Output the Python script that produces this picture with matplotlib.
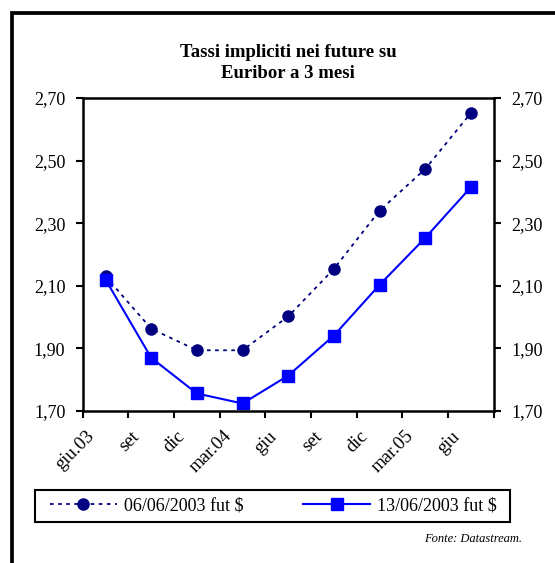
import matplotlib
matplotlib.use("Agg")
import matplotlib.pyplot as plt
import matplotlib.transforms as mtransforms
from matplotlib.patches import Rectangle

plt.rcParams['font.family'] = ['Liberation Serif', 'DejaVu Serif']

# data
dates = ['giu.03', 'set', 'dic', 'mar.04', 'giu', 'set', 'dic', 'mar.05', 'giu']
fut_0606 = [2.130, 1.963, 1.894, 1.894, 2.002, 2.154, 2.340, 2.473, 2.652]
fut_1306 = [2.120, 1.870, 1.756, 1.724, 1.813, 1.941, 2.103, 2.253, 2.415]
yticks = [1.70, 1.90, 2.10, 2.30, 2.50, 2.70]
ytick_labels = ['1,70', '1,90', '2,10', '2,30', '2,50', '2,70']

W, H = 555, 563
fig = plt.figure(figsize=(W / 100, H / 100), dpi=100)

# outer thick frame, cut off at right and bottom like the source
fig.patches.append(Rectangle((11.5 / W, -0.1), 1.2, (H - 13) / H + 0.1,
                             transform=fig.transFigure, fill=False,
                             lw=2.7, ec='black'))

ax = fig.add_axes([82.7 / W, (H - 411) / H, 411 / W, 313 / H])
x = list(range(len(dates)))

ax.plot(x, fut_0606, color='#000080', lw=1.3, dashes=(2, 2.5),
        marker='o', ms=8, label='06/06/2003 fut $')
ax.plot(x, fut_1306, color='#0000FF', lw=1.5, ls='-',
        marker='s', ms=9, label='13/06/2003 fut $')

ax.set_xlim(-0.5, len(dates) - 0.5)
ax.set_ylim(1.70, 2.70)

# category boundaries as ticks, labels at category centres
ax.set_xticks([i - 0.5 for i in range(len(dates) + 1)])
ax.set_xticklabels([])
ax.set_xticks(x, minor=True)
ax.set_xticklabels(dates, minor=True, rotation=45, ha='right', va='top',
                   fontsize=13.5)
ax.tick_params(axis='x', which='major', direction='out', length=5, width=1.5)
ax.tick_params(axis='x', which='minor', length=0, pad=12)
offset = mtransforms.ScaledTranslation(-8 / 100, 0, fig.dpi_scale_trans)
for lab in ax.get_xticklabels(minor=True):
    lab.set_transform(lab.get_transform() + offset)

ax.set_yticks(yticks)
ax.set_yticklabels(ytick_labels, fontsize=13)
ax.tick_params(axis='y', direction='out', length=5, width=1.5, pad=7.5,
               right=True, labelright=True)

for s in ax.spines.values():
    s.set_linewidth(1.8)

fig.text(288 / W, 1 - 78.3 / H, 'Tassi impliciti nei future su\nEuribor a 3 mesi',
         ha='center', va='baseline', fontsize=13.5, fontweight='bold',
         linespacing=1.3)

# legend entries spread over the box, box drawn separately
fig.legend(loc='center', ncol=2, mode='expand',
           bbox_to_anchor=(50 / W, (H - 522) / H, 447 / W, 32 / H),
           borderaxespad=0, borderpad=0, frameon=False,
           fontsize=13, handlelength=3.7, handletextpad=0.4)
fig.patches.append(Rectangle((34.7 / W, (H - 522) / H), 475.3 / W, 32 / H,
                             transform=fig.transFigure, fill=False,
                             lw=1.5, ec='black'))

fig.text(522 / W, 1 - 542 / H, 'Fonte: Datastream.', ha='right',
         va='baseline', fontsize=9, fontstyle='italic')

fig.savefig('out.png', dpi=100)
